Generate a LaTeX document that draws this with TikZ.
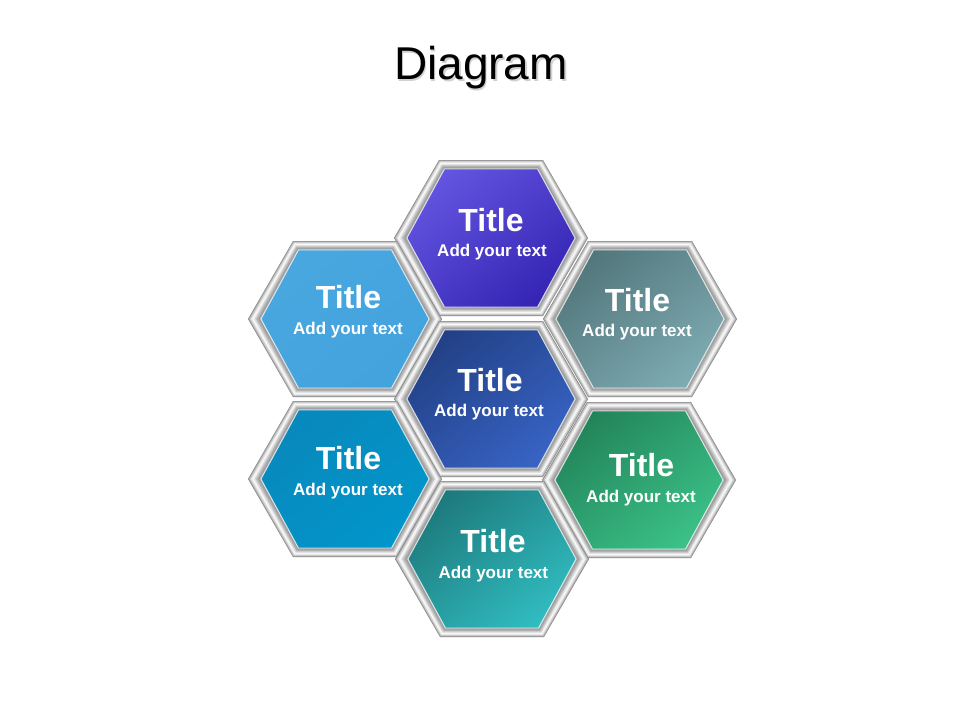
\documentclass[tikz,border=0pt]{standalone}
\usepackage{fontspec}
\setmainfont{Liberation Sans}
\usetikzlibrary{shadings}
\definecolor{tA}{HTML}{6B5DE8}\definecolor{tB}{HTML}{2C1CAC}
\definecolor{ulA}{HTML}{4AA8E0}\definecolor{ulB}{HTML}{42A2DC}
\definecolor{urA}{HTML}{4A6E72}\definecolor{urB}{HTML}{86B4BC}
\definecolor{cA}{HTML}{1E3A7A}\definecolor{cB}{HTML}{3C6AD0}
\definecolor{llA}{HTML}{0A86BA}\definecolor{llB}{HTML}{0098CC}
\definecolor{lrA}{HTML}{1E7A52}\definecolor{lrB}{HTML}{40CC90}
\definecolor{bA}{HTML}{1A6E70}\definecolor{bB}{HTML}{34C8CC}
\tikzset{
  ttl/.style={anchor=base, inner sep=0pt, text=white, font=\fontsize{32}{32}\selectfont\bfseries},
  sub/.style={anchor=base, inner sep=0pt, text=white, font=\fontsize{17}{17}\selectfont\bfseries},
  pics/hexcell/.style 2 args={code={
    \foreach \lv/\gv in {0/50,0.05/34,0.12/22,0.22/10,0.32/2,0.42/8,0.52/17,0.62/26,0.72/33,0.82/38,0.92/30}{
      \fill[black!\gv] ({-97+13*\lv},0) -- ({-52+5.5*\lv},{-78+9*\lv}) -- ({52-5.5*\lv},{-78+9*\lv}) -- ({97-13*\lv},0) -- ({52-5.5*\lv},{78-9*\lv}) -- ({-52+5.5*\lv},{78-9*\lv}) -- cycle;
    }
    \shade[upper left=#1, lower right=#2, upper right=#1!50!#2, lower left=#1!50!#2]
      (-84,0) -- (-46.5,-69) -- (46.5,-69) -- (84,0) -- (46.5,69) -- (-46.5,69) -- cycle;
    \draw[white, opacity=.75, line width=.9pt]
      (-84,0) -- (-46.5,-69) -- (46.5,-69) -- (84,0) -- (46.5,69) -- (-46.5,69) -- cycle;
  }}
}
\begin{document}
\begin{tikzpicture}[x=1pt,y=-1pt]
\useasboundingbox (0,0) rectangle (960,720);
\fill[white] (0,0) rectangle (960,720);
% title with soft shadow
\node[anchor=base, inner sep=0pt, text=black!18, font=\fontsize{46}{46}\selectfont] (dshadow) at (482.5,81.3) {Diagram};
\node[anchor=base, inner sep=0pt, text=black, font=\fontsize{46}{46}\selectfont] (diagram) at (481,79.3) {Diagram};
% hexagons
\pic (hT)  at (491,238) {hexcell={tA}{tB}};
\pic (hUL) at (345,319) {hexcell={ulA}{ulB}};
\pic (hUR) at (640,319) {hexcell={urA}{urB}};
\pic (hC)  at (491,399) {hexcell={cA}{cB}};
\pic (hLL) at (345,479) {hexcell={llA}{llB}};
\pic (hLR) at (639,480) {hexcell={lrA}{lrB}};
\pic (hB)  at (492,559) {hexcell={bA}{bB}};
% texts
\node[ttl] (tT)  at (491,231.7) {Title};
\node[sub] (sT)  at (492,256.7) {Add your text};
\node[ttl] (tUL) at (348.5,308) {Title};
\node[sub] (sUL) at (348,334) {Add your text};
\node[ttl] (tUR) at (637.5,311) {Title};
\node[sub] (sUR) at (637,336.7) {Add your text};
\node[ttl] (tC)  at (490,391.7) {Title};
\node[sub] (sC)  at (489,416.7) {Add your text};
\node[ttl] (tLL) at (348.5,469) {Title};
\node[sub] (sLL) at (348,495) {Add your text};
\node[ttl] (tLR) at (641.5,476.7) {Title};
\node[sub] (sLR) at (641,502.3) {Add your text};
\node[ttl] (tB)  at (493,552.3) {Title};
\node[sub] (sB)  at (493.3,578.3) {Add your text};
\end{tikzpicture}
\end{document}
